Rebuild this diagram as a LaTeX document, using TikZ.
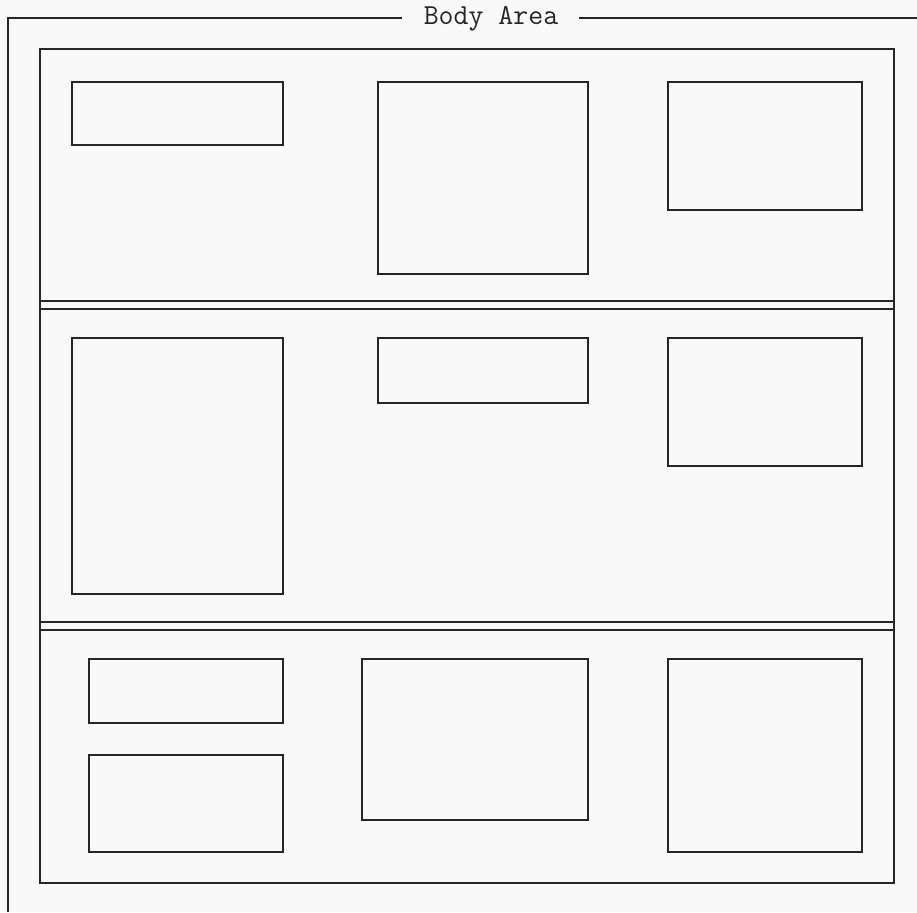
\documentclass[tikz,border=0pt]{standalone}
\usepackage{fontspec}
\begin{document}
\begin{tikzpicture}[x=1pt,y=-1pt,
  frame/.style={draw=black!85,line width=2pt},
  panelbox/.style={draw=black!85,line width=2pt},
  title/.style={font=\ttfamily\fontsize{29}{32}\selectfont,text=black!85,inner sep=0pt,anchor=center}]
\fill[white!95!gray] (0,0) rectangle (917,912);
\useasboundingbox (0,0) rectangle (917,912);
% title
\node[title] (t) at (491,19) {Body Area};
\coordinate (ol) at (8,912);
\coordinate (otl) at (8,18);
\coordinate (otr) at (917,18);
\draw[frame] (ol) -- (otl) -- (402,18);
\draw[frame] (579,18) -- (otr);
% inner frame
\draw[frame] (40,49) rectangle (894,883);
% separators
\draw[frame] (40,301) -- (894,301);
\draw[frame] (40,309) -- (894,309);
\draw[frame] (40,622) -- (894,622);
\draw[frame] (40,630) -- (894,630);
% panel 1
\draw[panelbox] (72,82) rectangle (283,145);
\draw[panelbox] (378,82) rectangle (588,274);
\draw[panelbox] (668,82) rectangle (862,210);
% panel 2
\draw[panelbox] (72,338) rectangle (283,594);
\draw[panelbox] (378,338) rectangle (588,403);
\draw[panelbox] (668,338) rectangle (862,466);
% panel 3
\draw[panelbox] (89,659) rectangle (283,723);
\draw[panelbox] (89,755) rectangle (283,852);
\draw[panelbox] (362,659) rectangle (588,820);
\draw[panelbox] (668,659) rectangle (862,852);
\end{tikzpicture}
\end{document}
